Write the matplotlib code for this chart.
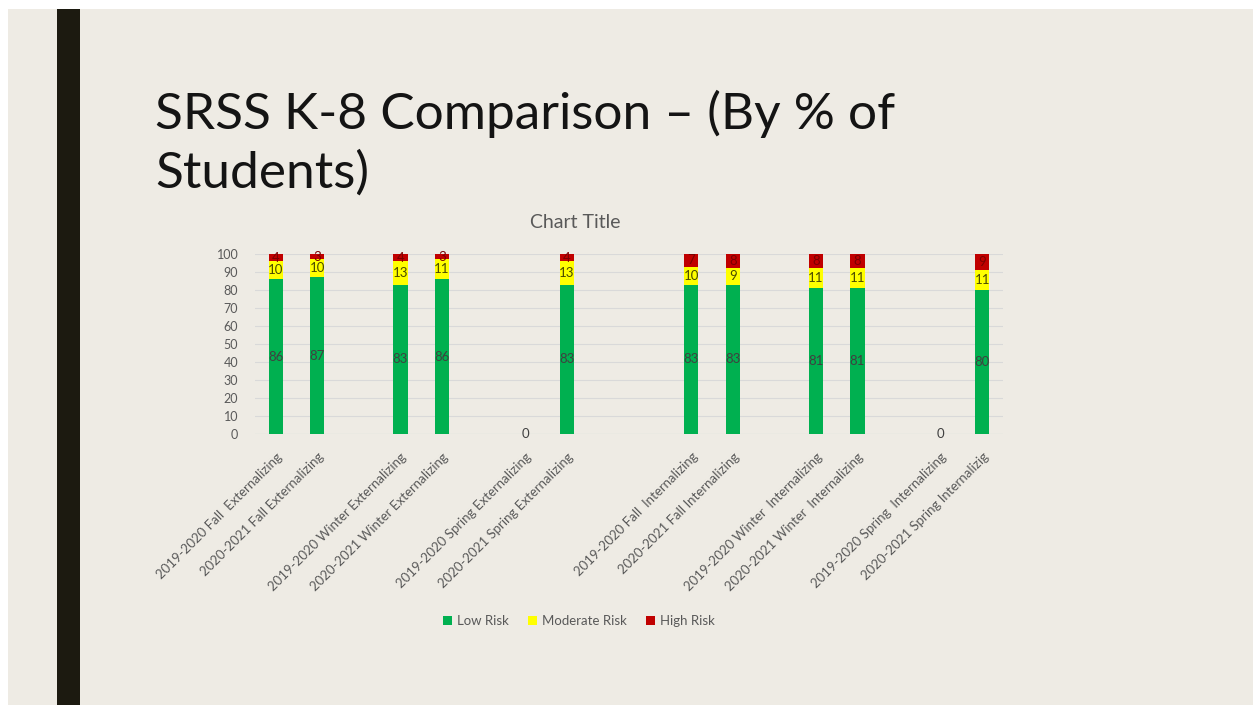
import matplotlib.pyplot as plt
from matplotlib.patches import Rectangle
import numpy as np

plt.rcParams['font.family'] = ['Lato', 'DejaVu Sans']

# categories (blank strings are spacer slots in the original chart)
categories = [
    '2019-2020 Fall  Externalizing', '2020-2021 Fall Externalizing', '',
    '2019-2020 Winter Externalizing', '2020-2021 Winter Externalizing', '',
    '2019-2020 Spring Externalizing', '2020-2021 Spring Externalizing', '', '',
    '2019-2020 Fall  Internalizing', '2020-2021 Fall Internalizing', '',
    '2019-2020 Winter  Internalizing', '2020-2021 Winter  Internalizing', '',
    '2019-2020 Spring  Internalizing', '2020-2021 Spring Internalizig',
]
low_risk = [86, 87, None, 83, 86, None, 0, 83, None, None, 83, 83, None, 81, 81, None, 0, 80]
moderate_risk = [10, 10, None, 13, 11, None, 0, 13, None, None, 10, 9, None, 11, 11, None, 0, 11]
high_risk = [4, 3, None, 4, 3, None, 0, 4, None, None, 7, 8, None, 8, 8, None, 0, 9]

bg = '#EEEBE4'
green = '#00B050'
yellow = '#FFFF00'
red = '#C00000'

fig = plt.figure(figsize=(12.53, 7.05), dpi=100)
fig.patch.set_facecolor(bg)
W, H = 1253, 705
# white margins and the black accent bar of the slide
fig.patches.append(Rectangle((0, 1 - 9 / H), 1, 9 / H, transform=fig.transFigure,
                             facecolor='white', edgecolor='none', zorder=0))
fig.patches.append(Rectangle((0, 0), 8 / W, 1, transform=fig.transFigure,
                             facecolor='white', edgecolor='none', zorder=0))
fig.patches.append(Rectangle((57 / W, 0), 23 / W, 1 - 9 / H, transform=fig.transFigure,
                             facecolor='#1C1A10', edgecolor='none', zorder=1))

fig.text(155 / W, 1 - 188 / H, 'SRSS K-8 Comparison – (By % of\nStudents)',
         fontsize=37, color='#141414', va='baseline', ha='left', linespacing=1.32)

ax = fig.add_axes([255 / W, 1 - 434 / H, 748 / W, 180 / H])
ax.set_facecolor('none')

x = np.arange(len(categories))
lo = np.array([v if v is not None else np.nan for v in low_risk], dtype=float)
mo = np.array([v if v is not None else np.nan for v in moderate_risk], dtype=float)
hi = np.array([v if v is not None else np.nan for v in high_risk], dtype=float)

bw = 0.34
b1 = ax.bar(x, np.nan_to_num(lo), bw, color=green, label='Low Risk', zorder=3)
b2 = ax.bar(x, np.nan_to_num(mo), bw, bottom=np.nan_to_num(lo), color=yellow,
            label='Moderate Risk', zorder=3)
b3 = ax.bar(x, np.nan_to_num(hi), bw, bottom=np.nan_to_num(lo) + np.nan_to_num(mo),
            color=red, label='High Risk', zorder=3)

lab_lo = ['' if v is None else str(v) for v in low_risk]
lab_mo = ['' if (v is None or v == 0) else str(v) for v in moderate_risk]
lab_hi = ['' if (v is None or v == 0) else str(v) for v in high_risk]
ax.bar_label(b1, labels=lab_lo, label_type='center', fontsize=9.5, color='#404040', zorder=4)
ax.bar_label(b2, labels=lab_mo, label_type='center', fontsize=9.5, color='#4a4a00', zorder=4)
ax.bar_label(b3, labels=lab_hi, label_type='center', fontsize=9.5, color='#7a0000', zorder=4)

ax.set_xlim(-0.5, len(categories) - 0.5)
ax.set_ylim(0, 100)
ax.set_yticks(range(0, 101, 10))
ax.yaxis.grid(True, color='#D9D9D9', linewidth=0.8, zorder=0)
ax.set_xticks(x)
ax.set_xticklabels(categories, rotation=45, ha='right', rotation_mode='anchor',
                   fontsize=9.5, color='#595959')
ax.tick_params(axis='y', length=0, labelsize=9, labelcolor='#595959', pad=12)
ax.tick_params(axis='x', length=0, pad=12)
for s in ax.spines.values():
    s.set_visible(False)
ax.axhline(0, color='#D9D9D9', linewidth=0.8, zorder=2)

fig.text(575 / W, 1 - 222 / H, 'Chart Title', fontsize=14, color='#595959',
         ha='center', va='center')

fig.legend(handles=[b1, b2, b3], loc='center', bbox_to_anchor=(579 / W, 1 - 621 / H),
           ncol=3, frameon=False, fontsize=9.5, labelcolor='#595959',
           handlelength=0.7, handleheight=0.7, handletextpad=0.4, columnspacing=1.4)

fig.savefig('out.png', dpi=100, facecolor=bg)
